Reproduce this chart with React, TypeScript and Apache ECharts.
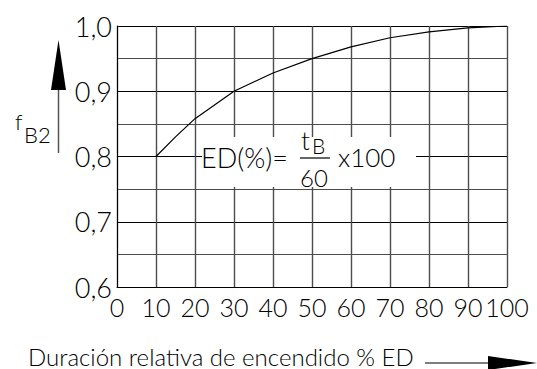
import React, { useEffect, useRef } from "react";
import * as echarts from "echarts";

const xTicks = [0, 10, 20, 30, 40, 50, 60, 70, 80, 90, 100];
const yTicks = [0.6, 0.7, 0.8, 0.9, 1.0];
const edValues = [0, 10, 15, 20, 30, 40, 50, 60, 70, 80, 90, 100];
const fB2Values = [0.8, 0.8, 0.83, 0.858, 0.9, 0.928, 0.95, 0.968, 0.982, 0.991, 0.997, 1.0];
const xTitle = "Duración relativa de encendido % ED";

const FONT = 'Lato, Roboto, "DejaVu Sans Condensed", sans-serif';
const W = 300;

export default function App() {
  const ref = useRef<HTMLDivElement>(null);
  useEffect(() => {
    if (!ref.current) return;
    const chart = echarts.init(ref.current, undefined, { renderer: "svg" });
    const data = edValues.map((x, i) => [x, fB2Values[i]]);
    const txt = (x: number, y: number, text: string, size: number, align = "left") => ({
      type: "text",
      x,
      y,
      z: 11,
      style: {
        text,
        font: `${W} ${size}px ${FONT}`,
        lineHeight: size,
        fill: "#000",
        verticalAlign: "middle",
        align,
      },
    });
    chart.setOption({
      animation: false,
      backgroundColor: "#fff",
      grid: { left: 117, right: 30, top: 26, bottom: 82, containLabel: false },
      xAxis: {
        type: "value",
        min: xTicks[0],
        max: xTicks[xTicks.length - 1],
        interval: 10,
        axisLine: { show: true, lineStyle: { color: "#000", width: 1 } },
        axisTick: { show: false },
        axisLabel: {
          color: "#000",
          fontFamily: FONT,
          fontWeight: W,
          fontSize: 25,
          margin: 7,
          showMinLabel: true,
          showMaxLabel: true,
          hideOverlap: false,
          formatter: (v: number) => String(v),
        },
        splitLine: { show: true, lineStyle: { color: "#4d4d4d", width: 1.4 } },
      },
      yAxis: {
        type: "value",
        min: yTicks[0],
        max: yTicks[yTicks.length - 1],
        interval: 0.1,
        axisLine: { show: true, lineStyle: { color: "#000", width: 1 } },
        axisTick: { show: false },
        axisLabel: {
          color: "#000",
          fontFamily: FONT,
          fontWeight: W,
          fontSize: 27,
          margin: 5,
          showMinLabel: true,
          showMaxLabel: true,
          formatter: (v: number) => v.toFixed(1).replace(".", ","),
        },
        splitLine: { show: true, lineStyle: { color: "#000", width: 1 } },
        minorTick: { show: false, splitNumber: 2 },
        minorSplitLine: { show: true, lineStyle: { color: "#4d4d4d", width: 1.2 } },
      },
      series: [
        {
          type: "line",
          data,
          symbol: "none",
          smooth: false,
          lineStyle: { color: "#000", width: 1.2 },
          z: 3,
        },
      ],
      graphic: [
        { type: "rect", shape: { x: 202, y: 137, width: 214, height: 50 }, style: { fill: "#fff" }, z: 10 },
        txt(201, 157, "ED(%)=", 27),
        txt(301, 140, "t", 26),
        txt(312, 145, "B", 21),
        { type: "line", shape: { x1: 300, y1: 158, x2: 330, y2: 158 }, style: { stroke: "#000", lineWidth: 1.2 }, z: 11 },
        txt(314, 177, "60", 24, "center"),
        txt(338, 157, "x100", 26),
        txt(15, 121, "f", 22),
        txt(24, 134, "B2", 22),
        { type: "line", shape: { x1: 58.5, y1: 88, x2: 58.5, y2: 153 }, style: { stroke: "#555", lineWidth: 1.5 }, z: 11 },
        { type: "polygon", shape: { points: [[58.5, 40], [51, 90], [66, 90]] }, style: { fill: "#000" }, z: 11 },
        txt(28, 356, xTitle, 24),
        { type: "line", shape: { x1: 425, y1: 363, x2: 490, y2: 363 }, style: { stroke: "#555", lineWidth: 1.5 }, z: 11 },
        { type: "polygon", shape: { points: [[488, 356], [537, 363], [488, 370]] }, style: { fill: "#000" }, z: 11 },
      ],
    });
    return () => chart.dispose();
  }, []);
  return <div ref={ref} style={{ position: "fixed", left: 0, top: 0, width: 537, height: 369 }} />;
}
